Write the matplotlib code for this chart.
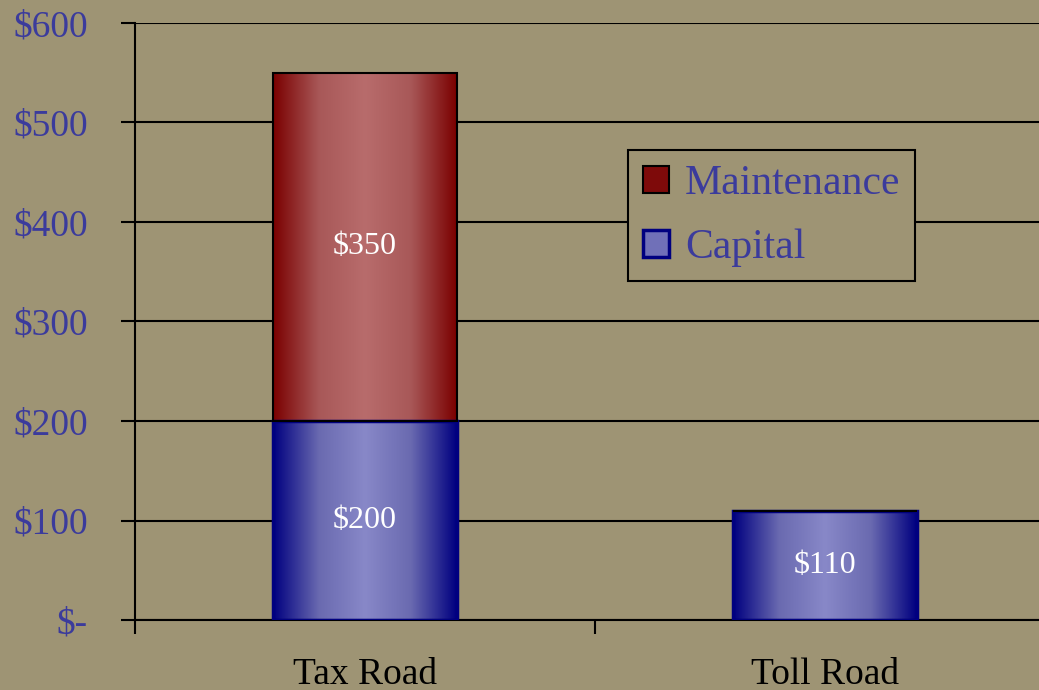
import matplotlib.pyplot as plt
import numpy as np
from matplotlib.colors import LinearSegmentedColormap
from matplotlib.patches import Patch

categories = ["Tax Road", "Toll Road"]
capital = [200, 110]
maintenance = [350, 0]
y_ticks = [0, 100, 200, 300, 400, 500, 600]
y_tick_labels = ["$-", "$100", "$200", "$300", "$400", "$500", "$600"]

BG = "#9e9474"
TEXT_BLUE = "#3b3b9c"
plt.rcParams["font.family"] = ["Liberation Serif", "DejaVu Serif"]

red_cmap = LinearSegmentedColormap.from_list(
    "red", ["#7a0000", "#a85858", "#b86c6c", "#a85858", "#7a0000"])
blue_cmap = LinearSegmentedColormap.from_list(
    "blue", ["#000080", "#6a6ab0", "#8888c8", "#6a6ab0", "#000080"])


def gradient_fill(ax, bars, cmap):
    grad = np.linspace(0, 1, 256).reshape(1, -1)
    for bar in bars:
        if bar.get_height() <= 0:
            continue
        x0, y0 = bar.get_x(), bar.get_y()
        im = ax.imshow(grad, cmap=cmap, aspect="auto", interpolation="bicubic",
                       extent=(x0, x0 + bar.get_width(), y0, y0 + bar.get_height()),
                       zorder=2)
        im.set_clip_path(bar)


fig = plt.figure(figsize=(10.39, 6.90), dpi=100, facecolor=BG)
ax = fig.add_axes([135 / 1039, 70 / 690, 920 / 1039, 597 / 690], facecolor=BG)

x = np.arange(len(categories))
cap_bars = ax.bar(x, capital, width=0.4, facecolor="none", edgecolor="#000080",
                  linewidth=2.5, zorder=3)
maint_bars = ax.bar(x, maintenance, width=0.4, bottom=capital, facecolor="none",
                    edgecolor="black", linewidth=1.5, zorder=3)
gradient_fill(ax, cap_bars, blue_cmap)
gradient_fill(ax, maint_bars, red_cmap)

for i in range(len(categories)):
    ax.text(x[i], capital[i] / 2, f"${capital[i]}", ha="center", va="center",
            color="white", fontsize=23, zorder=4)
    if maintenance[i] > 0:
        ax.text(x[i], capital[i] + maintenance[i] / 2, f"${maintenance[i]}",
                ha="center", va="center", color="white", fontsize=23, zorder=4)

ax.set_xlim(-0.5, 1.5)
ax.set_ylim(0, 600)
ax.set_yticks(y_ticks)
ax.set_yticklabels(y_tick_labels, color=TEXT_BLUE, fontsize=27)
ax.yaxis.grid(True, color="black", linewidth=1.5, zorder=1)
ax.set_axisbelow(True)

ax.set_xticks([-0.5, 0.5, 1.5])
ax.set_xticklabels([])
ax.set_xticks(x, minor=True)
ax.set_xticklabels(categories, minor=True, fontsize=27, color="black")
ax.tick_params(axis="x", which="minor", length=0, pad=27)
ax.tick_params(axis="x", which="major", length=10, width=1.5, direction="out")
ax.tick_params(axis="y", length=10, width=1.5, direction="out", pad=24)

for side in ["top", "right"]:
    ax.spines[side].set_visible(False)
for side in ["left", "bottom"]:
    ax.spines[side].set_linewidth(1.5)

handles = [Patch(facecolor="#7e0a0a", edgecolor="black", linewidth=1.5, label="Maintenance"),
           Patch(facecolor="#7070b8", edgecolor="#000080", linewidth=2.5, label="Capital")]
leg = ax.legend(handles=handles, loc="upper left", bbox_to_anchor=(0.536, 0.787),
                borderaxespad=0, fontsize=30, frameon=True, fancybox=False,
                edgecolor="black", facecolor=BG, framealpha=1, handlelength=0.62,
                handleheight=0.62, handletextpad=0.4, borderpad=0.35, labelspacing=0.6)
leg.get_frame().set_linewidth(1.5)
for t in leg.get_texts():
    t.set_color(TEXT_BLUE)

fig.savefig("out.png", dpi=100, facecolor=BG)
